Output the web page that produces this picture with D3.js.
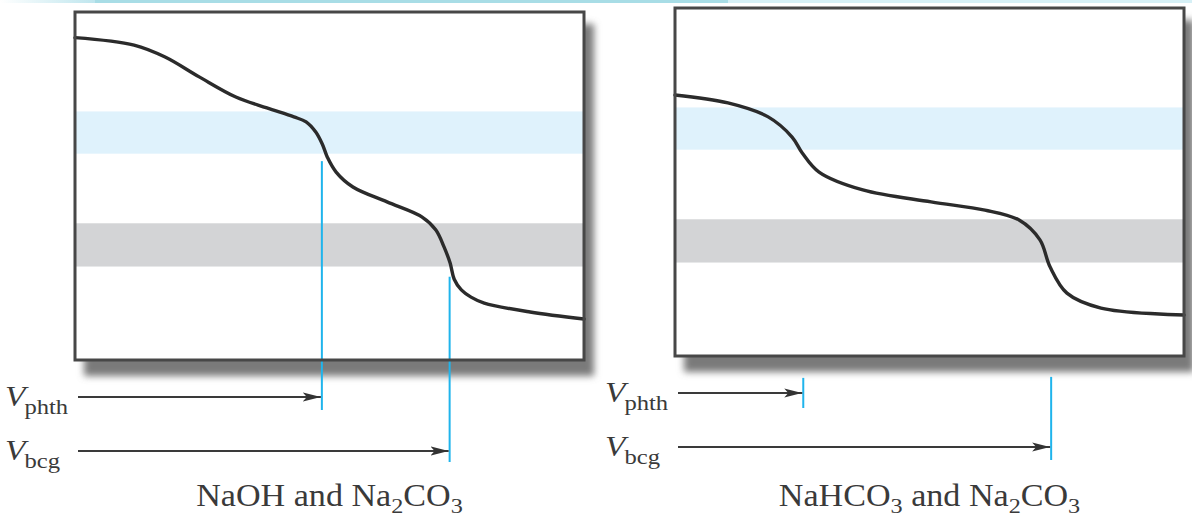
<!DOCTYPE html>
<html><head><meta charset="utf-8">
<script src="https://cdn.jsdelivr.net/npm/d3@7"></script>
<style>body{margin:0;background:#fff;overflow:hidden}svg{display:block}</style>
</head><body>
<script>
// ---------- data ----------
const volumeDomain = [0, 100];          // % of total titrant volume
const pHDomain = [0, 14];
const phthRange = [8.3, 10.0];          // phenolphthalein transition band
const bcgRange = [3.76, 5.5];           // bromocresol green transition band
const rowNames = ["phth", "bcg"];

// Panel A: NaOH and Na2CO3
const curveA_V  = [0, 11.6, 17.7, 24.4, 31.6, 37.7, 43.0, 45.4, 47.3, 48.6, 49.6, 51.3, 54.6, 61.3, 68.2, 70.9, 72.5, 73.7, 74.5, 75.9, 77.8, 80.4, 89.4, 100];
const curveA_pH = [12.97, 12.67, 12.19, 11.39, 10.58, 10.14, 9.78, 9.58, 9.17, 8.68, 8.15, 7.56, 6.96, 6.36, 5.75, 5.23, 4.55, 3.90, 3.25, 2.82, 2.53, 2.29, 1.93, 1.65];
const endpointsA_V  = [48.5, 73.6];
const endpointsA_top = [8.0, 3.35];     // pH where the marker starts

// Panel B: NaHCO3 and Na2CO3
const curveB_V  = [0, 10.4, 18.3, 23.0, 25.0, 28.3, 36.9, 50.3, 60.9, 67.6, 71.7, 73.7, 77.0, 83.7, 100];
const curveB_pH = [10.50, 10.18, 9.62, 8.81, 8.17, 7.40, 6.68, 6.20, 5.87, 5.47, 4.67, 3.58, 2.53, 1.93, 1.65];
const endpointsB_V  = [25.2, 73.9];
const endpointsB_top = [-0.88, -0.84];

const titleA = [["NaOH and Na", ""], ["2", "sub"], ["CO", ""], ["3", "sub"]];
const titleB = [["NaHCO", ""], ["3", "sub"], [" and Na", ""], ["2", "sub"], ["CO", ""], ["3", "sub"]];

// ---------- drawing ----------
const W = 1192, H = 519;
const svg = d3.select("body").append("svg").attr("width", W).attr("height", H);

const defs = svg.append("defs");
defs.append("filter").attr("id", "shadow").attr("x", "-20%").attr("y", "-20%").attr("width", "140%").attr("height", "140%")
  .append("feGaussianBlur").attr("stdDeviation", 3.5);
defs.append("marker").attr("id", "arrow").attr("viewBox", "0 0 18 10")
  .attr("refX", 18).attr("refY", 5).attr("markerWidth", 18).attr("markerHeight", 10)
  .attr("markerUnits", "userSpaceOnUse").attr("orient", "auto")
  .append("path").attr("d", "M0,0.5 L18,5 L0,9.5 L4,5 Z").attr("fill", "#333");

// header strip (cropped page decoration)
const hdr = defs.append("linearGradient").attr("id", "hdrL");
hdr.append("stop").attr("offset", "0%").attr("stop-color", "#ffffff");
hdr.append("stop").attr("offset", "100%").attr("stop-color", "#bfe6ee");
svg.append("rect").attr("x", 0).attr("y", 0).attr("width", 95).attr("height", 3).attr("fill", "url(#hdrL)");
svg.append("rect").attr("x", 95).attr("y", 0).attr("width", 633).attr("height", 3).attr("fill", "#a8dde6");
svg.append("rect").attr("x", 728).attr("y", 0).attr("width", 464).attr("height", 3).attr("fill", "#d6f0f6");

const BW = 509, BH = 348;
const panels = [
  {x0: 75, y0: 12, V: curveA_V, pH: curveA_pH, eV: endpointsA_V, eTop: endpointsA_top, eBot: [13, 11], title: titleA},
  {x0: 675, y0: 8, V: curveB_V, pH: curveB_pH, eV: endpointsB_V, eTop: endpointsB_top, eBot: [15, 13], title: titleB}
];

const serif = "Liberation Serif, Times New Roman, serif";

panels.forEach(p => {
  const g = svg.append("g").attr("transform", `translate(${p.x0},${p.y0})`);
  const x = d3.scaleLinear().domain(volumeDomain).range([0, BW]);
  const y = d3.scaleLinear().domain(pHDomain).range([BH, 0]);
  const row = d3.scalePoint().domain(rowNames).range([BH + 37, BH + 91]);

  // shadow
  g.append("rect").attr("x", 9).attr("y", 12).attr("width", BW + 1).attr("height", BH + 4)
    .attr("fill", "#7a7a7a").attr("filter", "url(#shadow)");
  g.append("rect").attr("x", 0).attr("y", 0).attr("width", BW).attr("height", BH).attr("fill", "#fff");

  // indicator bands
  [[phthRange, "#dff2fc"], [bcgRange, "#d3d4d6"]].forEach(([r, c]) => {
    g.append("rect").attr("x", 0).attr("width", BW)
      .attr("y", y(r[1])).attr("height", y(r[0]) - y(r[1])).attr("fill", c);
  });

  // endpoint markers
  rowNames.forEach((rn, i) => {
    g.append("line").attr("x1", x(p.eV[i])).attr("x2", x(p.eV[i]))
      .attr("y1", y(p.eTop[i])).attr("y2", row(rn) + p.eBot[i])
      .attr("stroke", "#1fb4ec").attr("stroke-width", 2);
  });

  // titration curve
  const pts = p.V.map((v, i) => [v, p.pH[i]]);
  g.append("path").datum(pts)
    .attr("d", d3.line().x(d => x(d[0])).y(d => y(d[1])).curve(d3.curveCatmullRom.alpha(0.5)))
    .attr("fill", "none").attr("stroke", "#2b2b2b").attr("stroke-width", 3.4)
    .attr("stroke-linejoin", "round").attr("stroke-linecap", "round");

  // frame
  g.append("rect").attr("x", 0).attr("y", 0).attr("width", BW).attr("height", BH)
    .attr("fill", "none").attr("stroke", "#474747").attr("stroke-width", 3);

  // arrows + labels
  rowNames.forEach((rn, i) => {
    g.append("line").attr("x1", 3).attr("x2", x(p.eV[i]) - 1)
      .attr("y1", row(rn)).attr("y2", row(rn))
      .attr("stroke", "#3a3a3a").attr("stroke-width", 2).attr("marker-end", "url(#arrow)");
    const lg = g.append("g").attr("transform", `translate(-70,${row(rn) + 9}) scale(1.12,1)`);
    const t = lg.append("text").attr("x", 0).attr("y", 0)
      .attr("font-family", serif).attr("fill", "#3a3a3a");
    t.append("tspan").attr("font-style", "italic").attr("font-size", 30).text("V");
    t.append("tspan").attr("font-size", 22).attr("dx", -1).attr("dy", 8).text(rn);
  });

  // caption
  const cg = g.append("g").attr("transform", `translate(${BW / 2},${BH + 150 - (p.y0 - 8)}) scale(1.1,1)`);
  const cap = cg.append("text").attr("x", 0).attr("y", 0)
    .attr("text-anchor", "middle").attr("font-family", serif)
    .attr("font-size", 31).attr("fill", "#3a3a3a");
  let prevSub = false;
  p.title.forEach(([s, kind]) => {
    const isSub = kind === "sub";
    const ts = cap.append("tspan").text(s);
    if (isSub) ts.attr("font-size", 22);
    if (isSub !== prevSub) ts.attr("dy", isSub ? 7 : -7);
    prevSub = isSub;
  });
});
</script>
</body></html>
